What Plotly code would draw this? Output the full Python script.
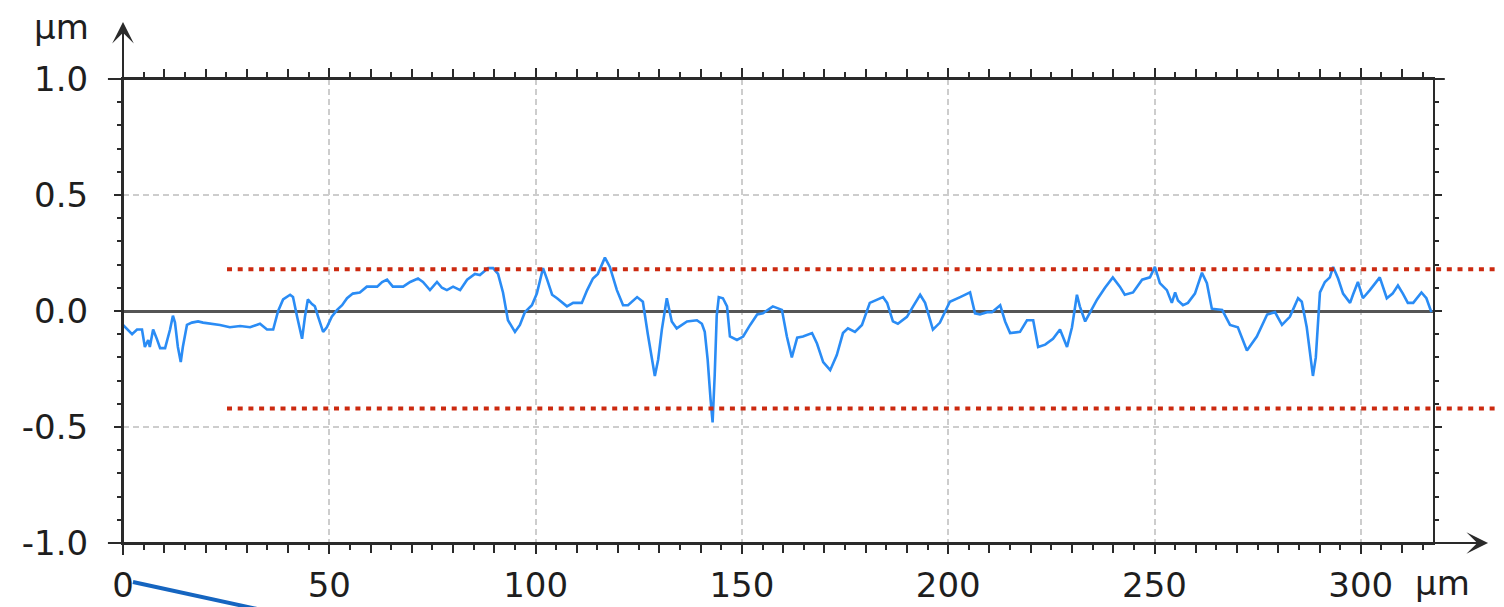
import plotly.graph_objects as go

# ---- data ----
x_um = [
    0.0, 1.0, 2.2, 3.4, 4.6, 5.3, 6.1, 6.5, 7.3, 8.2,
    9.0, 10.2, 11.4, 12.1, 12.6, 13.3, 14.0, 14.5, 15.5, 16.7,
    18.2, 19.4, 21.5, 23.5, 25.9, 28.4, 30.8, 33.2, 34.9, 36.4,
    37.6, 38.8, 40.5, 41.2, 42.2, 43.4, 44.1, 44.8, 45.8, 46.5,
    47.3, 48.5, 49.4, 50.6, 51.9, 53.1, 54.3, 55.7, 57.4, 59.1,
    61.6, 62.8, 64.0, 65.4, 67.9, 69.6, 71.5, 72.7, 74.4, 76.1,
    77.3, 78.5, 80.0, 81.7, 83.4, 85.3, 86.5, 88.5, 89.7, 90.9,
    92.1, 93.3, 95.0, 96.2, 97.4, 99.1, 100.3, 101.8, 102.8, 104.0,
    105.2, 107.6, 109.1, 111.2, 112.5, 113.9, 115.1, 116.8, 118.0, 119.7,
    121.2, 122.4, 124.6, 126.0, 127.2, 128.2, 128.9, 129.7, 130.6, 131.8,
    133.0, 134.2, 136.7, 139.1, 140.3, 141.0, 141.7, 142.4, 142.9, 143.4,
    143.9, 144.4, 145.4, 146.4, 147.1, 148.8, 150.3, 152.0, 153.7, 155.1,
    157.5, 159.7, 160.9, 162.1, 163.4, 164.8, 167.0, 168.2, 169.7, 171.4,
    173.0, 174.5, 175.7, 177.4, 179.1, 181.0, 182.7, 184.2, 185.2, 186.6,
    187.8, 190.0, 191.5, 193.2, 194.4, 196.3, 198.0, 200.4, 202.9, 205.3,
    206.5, 207.7, 209.4, 210.6, 212.6, 213.8, 215.0, 217.4, 219.1, 220.6,
    221.8, 223.5, 225.4, 227.1, 228.8, 230.0, 231.2, 231.9, 233.2, 234.4,
    236.1, 238.0, 239.9, 241.6, 242.8, 244.8, 247.0, 248.9, 250.1, 251.3,
    253.0, 254.2, 255.0, 255.7, 256.9, 258.1, 259.8, 261.5, 262.7, 263.9,
    266.4, 268.3, 270.2, 272.4, 274.8, 277.3, 279.2, 280.9, 282.8, 284.8,
    285.7, 286.9, 288.4, 289.1, 290.1, 291.3, 292.5, 293.3, 294.5, 295.7,
    297.4, 298.1, 299.3, 300.5, 302.2, 304.6, 306.3, 307.7, 309.0, 310.2,
    311.4, 312.7, 314.7, 315.9, 317.1,
]

height_um = [
    -0.06, -0.08, -0.10, -0.08, -0.08, -0.155, -0.125, -0.155, -0.08, -0.12,
    -0.16, -0.16, -0.08, -0.02, -0.05, -0.155, -0.22, -0.155, -0.06, -0.05,
    -0.045, -0.05, -0.055, -0.06, -0.07, -0.065, -0.07, -0.055, -0.08, -0.08,
    0.0, 0.05, 0.07, 0.06, -0.025, -0.12, -0.025, 0.05, 0.03, 0.02,
    -0.025, -0.09, -0.07, -0.025, 0.005, 0.025, 0.055, 0.075, 0.08, 0.105,
    0.105, 0.125, 0.135, 0.105, 0.105, 0.125, 0.14, 0.125, 0.09, 0.125,
    0.10, 0.09, 0.105, 0.09, 0.135, 0.16, 0.155, 0.185, 0.185, 0.16,
    0.08, -0.04, -0.09, -0.06, -0.005, 0.025, 0.075, 0.185, 0.135, 0.07,
    0.055, 0.02, 0.035, 0.035, 0.09, 0.14, 0.16, 0.23, 0.19, 0.09,
    0.025, 0.025, 0.06, 0.04, -0.10, -0.21, -0.28, -0.21, -0.08, 0.055,
    -0.045, -0.075, -0.045, -0.04, -0.055, -0.09, -0.21, -0.38, -0.48, -0.28,
    -0.02, 0.06, 0.055, 0.02, -0.11, -0.125, -0.11, -0.06, -0.015, -0.01,
    0.02, 0.005, -0.11, -0.20, -0.115, -0.11, -0.095, -0.14, -0.22, -0.255,
    -0.19, -0.095, -0.075, -0.09, -0.06, 0.035, 0.05, 0.06, 0.035, -0.045,
    -0.055, -0.025, 0.02, 0.07, 0.035, -0.08, -0.05, 0.04, 0.06, 0.08,
    -0.01, -0.015, -0.005, -0.005, 0.025, -0.045, -0.095, -0.09, -0.04, -0.04,
    -0.155, -0.145, -0.12, -0.08, -0.155, -0.07, 0.07, 0.02, -0.045, -0.005,
    0.05, 0.10, 0.145, 0.105, 0.07, 0.08, 0.135, 0.145, 0.19, 0.12,
    0.09, 0.035, 0.08, 0.045, 0.025, 0.035, 0.075, 0.165, 0.12, 0.01,
    0.005, -0.06, -0.07, -0.17, -0.11, -0.015, -0.005, -0.06, -0.025, 0.055,
    0.04, -0.07, -0.28, -0.20, 0.08, 0.125, 0.145, 0.19, 0.14, 0.075,
    0.035, 0.07, 0.125, 0.055, 0.09, 0.145, 0.055, 0.075, 0.11, 0.075,
    0.035, 0.035, 0.08, 0.055, -0.005,
]

upper_limit = 0.18
lower_limit = -0.42

x_tick_vals = [0, 50, 100, 150, 200, 250, 300]
x_tick_text = ["0", "50", "100", "150", "200", "250", "300"]
y_tick_vals = [-1.0, -0.5, 0.0, 0.5, 1.0]
y_tick_text = ["-1.0", "-0.5", "0.0", "0.5", "1.0"]
x_range = [0, 317.5]
y_range = [-1.0, 1.0]
unit_label = "µm"

# ---- styles ----
FONT = "DejaVu Sans"
TXT = "#1e1e1e"
AX = "#2a2a2a"
GRID = "#cdcdcd"
BLUE = "#2a8cf5"
RED = "#cc2a10"

n = min(len(x_um), len(height_um))

fig = go.Figure()
fig.add_trace(go.Scatter(x=x_um[:n], y=height_um[:n], mode="lines",
                         line=dict(color=BLUE, width=2.6), hoverinfo="skip",
                         showlegend=False))
# helper trace for overlaying tick axis
fig.add_trace(go.Scatter(x=[], y=[], xaxis="x2", yaxis="y", showlegend=False))

minor_x = dict(ticks="outside", tick0=0, dtick=5, ticklen=5, tickwidth=2,
               tickcolor=AX, showgrid=False)
minor_y = dict(ticks="outside", tick0=0, dtick=0.1, ticklen=4, tickwidth=2,
               tickcolor=AX, showgrid=False)

# page body has an 8px offset, so margins are shifted accordingly
fig.update_layout(
    width=1504, height=607,
    margin=dict(l=115, r=79, t=71, b=72, autoexpand=False),
    paper_bgcolor="white", plot_bgcolor="white",
    font=dict(family=FONT, size=34, color=TXT),
    showlegend=False,
    xaxis=dict(range=x_range, tickmode="array", tickvals=x_tick_vals,
               ticktext=x_tick_text, ticks="outside", ticklen=9, tickwidth=2,
               tickcolor=AX, showline=True, linecolor=AX, linewidth=2,
               mirror="ticks", showgrid=True, gridcolor=GRID, gridwidth=1.5,
               griddash="6px,4px", zeroline=False, minor=minor_x,
               ticklabelstandoff=2, automargin=False,
               tickfont=dict(family=FONT, size=34, color=TXT)),
    xaxis2=dict(range=x_range, overlaying="x", anchor="y", side="bottom",
                tickmode="linear", tick0=0, dtick=10, ticks="outside",
                ticklen=9, tickwidth=2, tickcolor=AX, showticklabels=False,
                showgrid=False, zeroline=False, showline=False, mirror="ticks"),
    yaxis=dict(range=y_range, tickmode="array", tickvals=y_tick_vals,
               ticktext=y_tick_text, ticks="outside", ticklen=7, tickwidth=2,
               tickcolor=AX, showline=True, linecolor=AX, linewidth=2,
               mirror="ticks", showgrid=True, gridcolor=GRID, gridwidth=1.5,
               griddash="6px,4px", zeroline=True, zerolinecolor="#555555",
               zerolinewidth=2.5, minor=minor_y, ticklabelstandoff=19,
               automargin=False,
               tickfont=dict(family=FONT, size=34, color=TXT)),
)

shapes = []
for lim in (upper_limit, lower_limit):
    shapes.append(dict(type="line", xref="paper", yref="y", x0=0.0794, x1=1.0542,
                       y0=lim, y1=lim, layer="above",
                       line=dict(color=RED, width=4, dash="5px,5.7px")))
# axis line extensions
shapes.append(dict(type="line", xref="paper", yref="paper", x0=-0.0115, x1=1.03,
                   y0=0, y1=0, line=dict(color=AX, width=2)))
shapes.append(dict(type="line", xref="paper", yref="paper", x0=-0.0115, x1=1.009,
                   y0=1, y1=1, line=dict(color=AX, width=2)))
shapes.append(dict(type="line", xref="paper", yref="paper", x0=0, x1=0,
                   y0=-0.026, y1=1.10, line=dict(color=AX, width=2)))
# blue leader line below the origin label
shapes.append(dict(type="line", xref="paper", yref="paper", x0=0.0076, x1=0.115,
                   y0=-0.084, y1=-0.150, line=dict(color="#1565C0", width=4)))
fig.update_layout(shapes=shapes)

annotations = [
    dict(text=unit_label, xref="paper", yref="paper", x=-0.0466, y=1.112,
         xanchor="center", yanchor="middle", showarrow=False,
         font=dict(family=FONT, size=34, color=TXT)),
    dict(text=unit_label, xref="paper", yref="paper", x=1.0069, y=-0.086,
         xanchor="center", yanchor="middle", showarrow=False,
         font=dict(family=FONT, size=34, color=TXT)),
    dict(text="", xref="paper", yref="paper", x=0, y=1.1228, ax=0, ay=30,
         showarrow=True, arrowhead=3, arrowsize=1.8, arrowwidth=2, arrowcolor=AX),
    dict(text="", xref="paper", yref="paper", x=1.042, y=0, ax=-30, ay=0,
         showarrow=True, arrowhead=3, arrowsize=1.8, arrowwidth=2, arrowcolor=AX),
]
fig.update_layout(annotations=annotations)

fig.write_html("out.html")
